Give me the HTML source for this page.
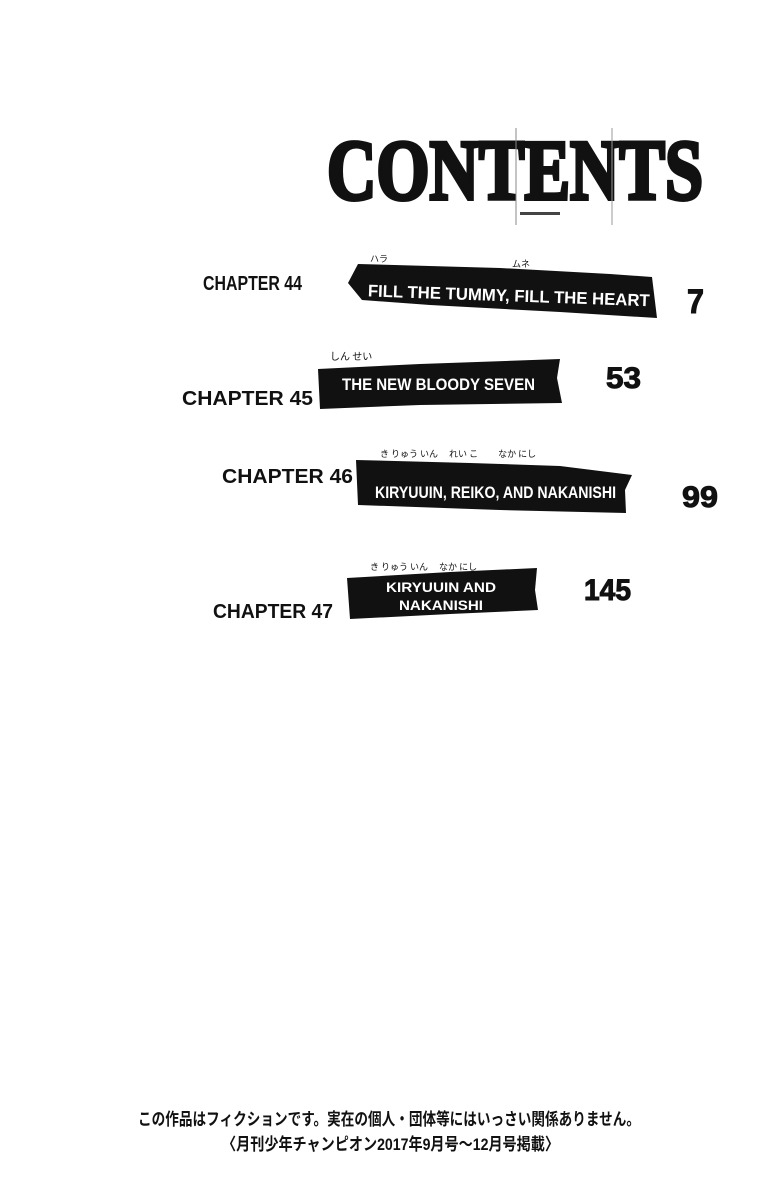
<!DOCTYPE html>
<html><head><meta charset="utf-8"><style>
html,body{margin:0;padding:0;background:#fff;}
svg{display:block}
</style></head><body>
<svg width="777" height="1200" viewBox="0 0 777 1200" xmlns="http://www.w3.org/2000/svg">
<rect width="777" height="1200" fill="#fff"/>
<!-- CONTENTS -->
<text x="327" y="199" font-family="Liberation Serif" font-weight="bold" font-size="86" textLength="376" lengthAdjust="spacingAndGlyphs" fill="#111" stroke="#111" stroke-width="4" stroke-linejoin="miter">CONTENTS</text>
<line x1="516" y1="128" x2="516" y2="225" stroke="#888" stroke-width="1"/>
<line x1="612" y1="128" x2="612" y2="225" stroke="#999" stroke-width="1"/>
<rect x="520" y="212" width="40" height="3" fill="#444"/>

<g font-family="Liberation Sans" font-weight="bold" fill="#111">
<!-- Ch44 -->
<text x="203" y="290" font-size="20" textLength="99" lengthAdjust="spacingAndGlyphs">CHAPTER 44</text>
<polygon points="348,283 358,264 500,268 610,274 652,277 657,318 560,312 430,305 362,300" fill="#111"/>
<text x="368" y="301" font-size="17" textLength="282" lengthAdjust="spacingAndGlyphs" fill="#fff" transform="rotate(2 500 290)">FILL THE TUMMY, FILL THE HEART</text>
<text x="370" y="262" font-size="9" font-weight="normal" font-family="Noto Sans CJK JP">ハラ</text>
<text x="512" y="267" font-size="9" font-weight="normal" font-family="Noto Sans CJK JP">ムネ</text>
<text x="687" y="313" font-size="34" textLength="17" lengthAdjust="spacingAndGlyphs" stroke="#111" stroke-width="1">7</text>

<!-- Ch45 -->
<text x="182" y="405" font-size="20" textLength="131" lengthAdjust="spacingAndGlyphs">CHAPTER 45</text>
<polygon points="318,369 420,364 560,359 557,378 562,403 420,405 320,409" fill="#111"/>
<text x="342" y="390" font-size="17" textLength="193" lengthAdjust="spacingAndGlyphs" fill="#fff">THE NEW BLOODY SEVEN</text>
<text x="330" y="360" font-size="10" font-weight="normal" font-family="Noto Sans CJK JP">しん せい</text>
<text x="606" y="388" font-size="30" textLength="35" lengthAdjust="spacingAndGlyphs" stroke="#111" stroke-width="1">53</text>

<!-- Ch46 -->
<text x="222" y="483" font-size="20" textLength="131" lengthAdjust="spacingAndGlyphs">CHAPTER 46</text>
<polygon points="356,460 470,463 560,466 632,475 625,490 626,513 500,510 358,505" fill="#111"/>
<text x="375" y="498" font-size="17" textLength="241" lengthAdjust="spacingAndGlyphs" fill="#fff">KIRYUUIN, REIKO, AND NAKANISHI</text>
<text x="380" y="457" font-size="9" font-weight="normal" font-family="Noto Sans CJK JP">き りゅう いん　 れい こ　　 なか にし</text>
<text x="682" y="507" font-size="30" textLength="36" lengthAdjust="spacingAndGlyphs" stroke="#111" stroke-width="1">99</text>

<!-- Ch47 -->
<text x="213" y="618" font-size="20" textLength="120" lengthAdjust="spacingAndGlyphs">CHAPTER 47</text>
<polygon points="347,578 450,572 537,568 535,590 538,610 450,614 350,619" fill="#111"/>
<text x="441" y="592" font-size="14" text-anchor="middle" textLength="110" lengthAdjust="spacingAndGlyphs" fill="#fff">KIRYUUIN AND</text>
<text x="441" y="610" font-size="14" text-anchor="middle" textLength="84" lengthAdjust="spacingAndGlyphs" fill="#fff">NAKANISHI</text>
<text x="370" y="570" font-size="9" font-weight="normal" font-family="Noto Sans CJK JP">き りゅう いん　 なか にし</text>
<text x="584" y="600" font-size="30" textLength="47" lengthAdjust="spacingAndGlyphs" stroke="#111" stroke-width="1">145</text>
</g>

<g font-family="Liberation Sans, 'Noto Sans CJK JP', sans-serif" font-weight="bold" fill="#111" font-size="17">
<text x="138" y="1125" textLength="502" lengthAdjust="spacingAndGlyphs">この作品はフィクションです。実在の個人・団体等にはいっさい関係ありません。</text>
<text x="222" y="1150" textLength="337" lengthAdjust="spacingAndGlyphs">〈月刊少年チャンピオン2017年9月号〜12月号掲載〉</text>
</g>
</svg>
</body></html>
